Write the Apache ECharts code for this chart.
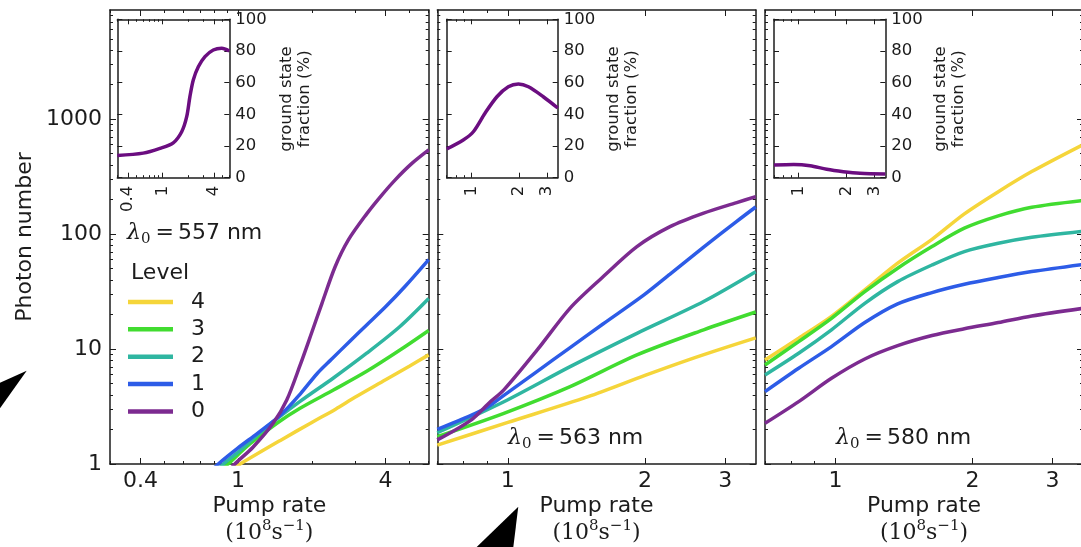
<!DOCTYPE html>
<html>
<head>
<meta charset="utf-8">
<script src="https://cdn.jsdelivr.net/npm/echarts@6/dist/echarts.min.js"></script>
<style>
  html, body { margin: 0; padding: 0; background: #fff; }
  #chart { width: 1081px; height: 547px; }
</style>
</head>
<body>
<div id="chart"></div>
<script>
// ---------- data ----------
// condensate levels (legend order) and their colours
const levelNames = ['4', '3', '2', '1', '0'];
const levelColors = ['#f5d53a', '#41dc30', '#2fb6a1', '#2d5ce7', '#7c2b90'];

// photon number vs pump rate (1e8 s^-1), lambda0 = 557 nm
const n557_l4 = [[0.95, 0.9], [1.02, 1.0], [1.5, 1.62], [2.0, 2.3], [2.5, 3.0], [3.0, 3.8], [4.0, 5.4], [5.0, 7.1], [6.0, 8.9]];
const n557_l3 = [[0.86, 0.9], [0.91, 1.0], [1.12, 1.5], [1.44, 2.26], [1.79, 3.05], [2.45, 4.4], [3.35, 6.4], [4.58, 9.8], [6.0, 14.5]];
const n557_l2 = [[0.82, 0.88], [0.87, 1.0], [1.0, 1.27], [1.31, 2.1], [1.79, 3.5], [2.45, 5.6], [3.35, 9.2], [4.58, 15.7], [6.0, 27.5]];
const n557_l1 = [[0.78, 0.88], [0.83, 1.0], [1.0, 1.38], [1.2, 1.85], [1.5, 2.7], [1.8, 4.1], [2.1, 6.1], [2.4, 8.1], [2.86, 11.7], [3.35, 16.2], [4.0, 23.3], [4.8, 35], [6.0, 60]];
const n557_l0 = [[0.9, 0.82], [0.97, 1.0], [1.15, 1.4], [1.39, 2.26], [1.58, 3.6], [1.79, 7.2], [2.0, 14], [2.2, 25], [2.49, 52], [2.82, 89], [3.35, 150], [3.8, 210], [4.37, 295], [5.11, 410], [6.0, 540]];

// lambda0 = 563 nm
const n563_l4 = [[0.7, 1.46], [1.0, 2.3], [1.5, 3.85], [2.0, 5.9], [2.5, 8.1], [3.0, 10.3], [3.5, 12.5]];
const n563_l3 = [[0.7, 1.73], [0.98, 2.76], [1.37, 4.71], [1.92, 8.89], [2.69, 14.7], [3.5, 21]];
const n563_l2 = [[0.7, 1.87], [0.98, 3.48], [1.37, 7.03], [1.92, 13.7], [2.69, 25.9], [3.5, 47]];
const n563_l1 = [[0.7, 2.0], [0.83, 2.65], [0.9, 3.1], [0.98, 3.95], [1.16, 6.4], [1.37, 10.3], [1.62, 16.6], [1.99, 29.6], [2.27, 44.9], [2.69, 77], [3.18, 129], [3.5, 172]];
const n563_l0 = [[0.7, 1.62], [0.83, 2.41], [0.915, 3.48], [0.98, 4.41], [1.16, 9.82], [1.37, 22.7], [1.62, 42.7], [1.92, 77.8], [2.27, 116], [2.69, 152], [3.18, 188], [3.5, 212]];

// lambda0 = 580 nm, all levels sampled at the same pump rates
const pump580 = [0.70, 0.83, 0.98, 1.16, 1.37, 1.63, 1.92, 2.28, 2.70, 3.50];
const n580_l4 = [8.04, 12.4, 19.2, 32.7, 55.8, 90, 150, 234, 350, 600];
const n580_l3 = [7.27, 11.6, 18.5, 31.6, 50.5, 77.9, 112.5, 144, 171, 196];
const n580_l2 = [5.95, 9.19, 14.7, 25.0, 38.6, 53.9, 70.5, 83.3, 94, 106];
const n580_l1 = [4.26, 6.8, 10.5, 17.0, 24.7, 31.0, 36.6, 41.9, 47.2, 54.5];
const n580_l0 = [2.26, 3.49, 5.57, 8.2, 10.7, 13.1, 15.0, 17.0, 19.4, 22.6];

// ground state fraction (%) vs pump rate
const g557 = [[0.3, 14], [0.6, 15.5], [0.94, 18.5], [1.34, 22], [1.68, 29], [1.92, 38.5], [2.09, 51], [2.29, 61.7], [2.62, 70], [3.13, 76.4], [3.91, 80.6], [4.9, 81.7], [6.0, 80]];
const g563 = [[0.7, 18.1], [0.89, 23.8], [1.03, 29], [1.22, 40.7], [1.45, 51.1], [1.71, 57.4], [1.98, 59.2], [2.29, 57.4], [2.84, 51.1], [3.5, 44]];
const g580 = [[0.7, 8.0], [0.93, 8.4], [1.18, 7.6], [1.5, 5.3], [1.91, 3.8], [2.43, 2.8], [3.5, 2.3]];

// axis ranges and tick values
const pumpRange557 = [0.3, 6];
const pumpRange = [0.7, 3.5];
const photonRange = [1, 8900];
const fractionRange = [0, 100];
const pumpTicks557 = [0.4, 1, 4];
const pumpMinor557 = [0.3, 0.5, 0.6, 0.7, 0.8, 0.9, 2, 3, 5, 6];
const pumpTicks = [1, 2, 3];
const pumpMinor = [0.7, 0.8, 0.9];
const photonTicks = [1, 10, 100, 1000];
const photonMinor = [2, 3, 4, 5, 6, 7, 8, 9, 20, 30, 40, 50, 60, 70, 80, 90,
  200, 300, 400, 500, 600, 700, 800, 900, 2000, 3000, 4000, 5000, 6000, 7000, 8000];
const fractionTicks = [0, 20, 40, 60, 80, 100];

const wavelengths = ['557', '563', '580'];

// ---------- styling / layout ----------
const FONT = "'DejaVu Sans', sans-serif";
const SERIF = "'DejaVu Serif', serif";
const INK = '#1c1c1c';

const panels = [
  {
    main: { left: 110, top: 10, width: 318.7, height: 454 },
    inset: { left: 117.3, top: 19.3, width: 112, height: 158.4 },
    pump: pumpRange557, ticks: pumpTicks557, minor: pumpMinor557,
    curves: [n557_l4, n557_l3, n557_l2, n557_l1, n557_l0], ground: g557,
    yLabels: true
  },
  {
    main: { left: 437.3, top: 10, width: 318.4, height: 454 },
    inset: { left: 446.7, top: 19.3, width: 111, height: 158.4 },
    pump: pumpRange, ticks: pumpTicks, minor: pumpMinor,
    curves: [n563_l4, n563_l3, n563_l2, n563_l1, n563_l0], ground: g563,
    yLabels: false
  },
  {
    main: { left: 765, top: 10, width: 318, height: 454 },
    inset: { left: 774, top: 19.3, width: 111.3, height: 158.4 },
    pump: pumpRange, ticks: pumpTicks, minor: pumpMinor,
    curves: [n580_l4, n580_l3, n580_l2, n580_l1, n580_l0].map(vals => pump580.map((x, i) => [x, vals[i]])),
    ground: g580,
    yLabels: false
  }
];

const fmt = v => String(Math.round(v * 1000) / 1000);

const grids = [], xAxis = [], yAxis = [], series = [];

// one frame side = a major-tick axis (with line) plus an optional minor-tick axis
function axisSet(list, gridIndex, base, sides, major, minor, lens, label) {
  let primary = -1;
  sides.forEach((pos, i) => {
    const idx = list.length;
    if (i === 0) primary = idx;
    list.push(Object.assign({ gridIndex: gridIndex, position: pos }, base, {
      axisLine: { show: true, onZero: false, lineStyle: { color: INK, width: 1.5 } },
      axisTick: { show: true, inside: true, length: lens[0], customValues: major, lineStyle: { color: INK, width: 1 } },
      axisLabel: i === 0 ? label : { show: false },
      splitLine: { show: false },
      minorTick: { show: false }
    }));
    if (minor) {
      list.push(Object.assign({ gridIndex: gridIndex, position: pos }, base, {
        axisLine: { show: false, onZero: false },
        axisTick: { show: true, inside: true, length: lens[1], customValues: minor, lineStyle: { color: INK, width: 1 } },
        axisLabel: { show: false },
        splitLine: { show: false },
        minorTick: { show: false }
      }));
    }
  });
  return primary;
}

panels.forEach(p => {
  // main plot
  const g = grids.length;
  grids.push(Object.assign({ containLabel: false, outerBoundsMode: 'none' }, p.main));
  const xBase = { type: 'log', logBase: 10, min: p.pump[0], max: p.pump[1] };
  const yBase = { type: 'log', logBase: 10, min: photonRange[0], max: photonRange[1] };
  const xi = axisSet(xAxis, g, xBase, ['bottom', 'top'], p.ticks, p.minor, [6, 3], {
    show: true, customValues: p.ticks, formatter: fmt, margin: 6,
    fontFamily: FONT, fontSize: 22, color: INK
  });
  const yi = axisSet(yAxis, g, yBase, ['left', 'right'], photonTicks, photonMinor, [6, 3],
    p.yLabels ? {
      show: true, customValues: photonTicks, formatter: fmt, margin: 8,
      fontFamily: FONT, fontSize: 22, color: INK
    } : { show: false });
  p.curves.forEach((data, k) => {
    series.push({
      type: 'line', name: levelNames[k], xAxisIndex: xi, yAxisIndex: yi,
      data: data, symbol: 'none', showSymbol: false, smooth: 0.3,
      clip: true, silent: true,
      lineStyle: { width: 3.5, color: levelColors[k], cap: 'butt' },
      itemStyle: { color: levelColors[k] },
      z: 3
    });
  });

  // inset: ground state fraction
  const gi = grids.length;
  grids.push(Object.assign({ containLabel: false, outerBoundsMode: 'none', show: true, backgroundColor: '#fff', borderWidth: 0 }, p.inset));
  const ixi = axisSet(xAxis, gi, xBase, ['bottom', 'top'], p.ticks, p.minor, [5, 2.5], {
    show: true, customValues: p.ticks, formatter: fmt, rotate: 90, margin: 8,
    fontFamily: FONT, fontSize: 16.5, color: INK
  });
  const iyi = axisSet(yAxis, gi, { type: 'value', min: fractionRange[0], max: fractionRange[1], interval: 20 },
    ['right', 'left'], fractionTicks, null, [5, 2.5], {
      show: true, customValues: fractionTicks, margin: 6,
      fontFamily: FONT, fontSize: 16.5, color: INK
    });
  series.push({
    type: 'line', name: 'ground state fraction', xAxisIndex: ixi, yAxisIndex: iyi,
    data: p.ground, symbol: 'none', showSymbol: false, smooth: 0.3,
    clip: true, silent: true,
    lineStyle: { width: 3.5, color: '#6b0d80' }, itemStyle: { color: '#6b0d80' }, z: 3
  });
});

// ---------- text and annotations ----------
function plainText(text, x, y, size, extra) {
  return Object.assign({
    type: 'text', x: x, y: y, silent: true,
    style: {
      text: text, fontFamily: FONT, fontSize: size, fill: INK,
      textAlign: 'center', textVerticalAlign: 'middle', lineHeight: 18
    }
  }, extra || {});
}

function lambdaLabel(x, y, nm) {
  return {
    type: 'text', x: x, y: y, silent: true,
    style: {
      text: '{l|λ}{s|0}{e|=}{n|' + nm + ' nm}',
      textAlign: 'left', textVerticalAlign: 'middle', fill: INK,
      rich: {
        l: { fontFamily: SERIF, fontStyle: 'italic', fontSize: 22, lineHeight: 28, fill: INK },
        s: { fontFamily: SERIF, fontSize: 15, lineHeight: 18, verticalAlign: 'bottom', fill: INK },
        e: { fontFamily: SERIF, fontSize: 22, lineHeight: 28, padding: [0, 4, 0, 5], fill: INK },
        n: { fontFamily: FONT, fontSize: 22, lineHeight: 28, fill: INK }
      }
    }
  };
}

function unitLabel(x, y) {
  return {
    type: 'text', x: x, y: y, silent: true,
    style: {
      text: '{m|(10}{u|8}{m|s}{u|−1}{m|)}',
      textAlign: 'center', textVerticalAlign: 'middle', fill: INK,
      rich: {
        m: { fontFamily: SERIF, fontSize: 22, lineHeight: 28, fill: INK },
        u: { fontFamily: SERIF, fontSize: 15, lineHeight: 12, verticalAlign: 'top', fill: INK }
      }
    }
  };
}

const graphic = [
  plainText('Photon number', 25, 237, 22, { rotation: Math.PI / 2 }),
  plainText('Level', 131, 273, 22, { style: { text: 'Level', fontFamily: FONT, fontSize: 22, fill: INK, textAlign: 'left', textVerticalAlign: 'middle' } }),
  lambdaLabel(127, 233, wavelengths[0]),
  lambdaLabel(508, 438, wavelengths[1]),
  lambdaLabel(836, 438, wavelengths[2]),
  {
    type: 'polygon', silent: true,
    shape: { points: [[26.7, 370.7], [0, 382.7], [0, 408.3]] },
    style: { fill: '#000' }
  },
  {
    type: 'polygon', silent: true,
    shape: { points: [[518.3, 506.7], [476.7, 547], [513.3, 547]] },
    style: { fill: '#000' }
  }
];
const insetLabelX = [296, 622.5, 950];
const axisCenterX = [269.4, 596.5, 924];
insetLabelX.forEach(x => graphic.push(plainText('ground state\nfraction (%)', x, 99, 16.5, { rotation: Math.PI / 2 })));
axisCenterX.forEach(x => {
  graphic.push(plainText('Pump rate', x, 506, 22));
  graphic.push(unitLabel(x, 533));
});

const chart = echarts.init(document.getElementById('chart'), null, { renderer: 'canvas' });
chart.setOption({
  backgroundColor: '#fff',
  animation: false,
  textStyle: { fontFamily: FONT },
  grid: grids,
  xAxis: xAxis,
  yAxis: yAxis,
  legend: {
    data: levelNames, orient: 'vertical', left: 128, top: 290, padding: 0,
    icon: 'rect', itemWidth: 45, itemHeight: 4.5, itemGap: 3.35, selectedMode: false,
    textStyle: { fontFamily: FONT, fontSize: 22, color: INK, lineHeight: 24, padding: [0, 0, 0, 13] }
  },
  series: series,
  graphic: graphic
});
</script>
</body>
</html>
